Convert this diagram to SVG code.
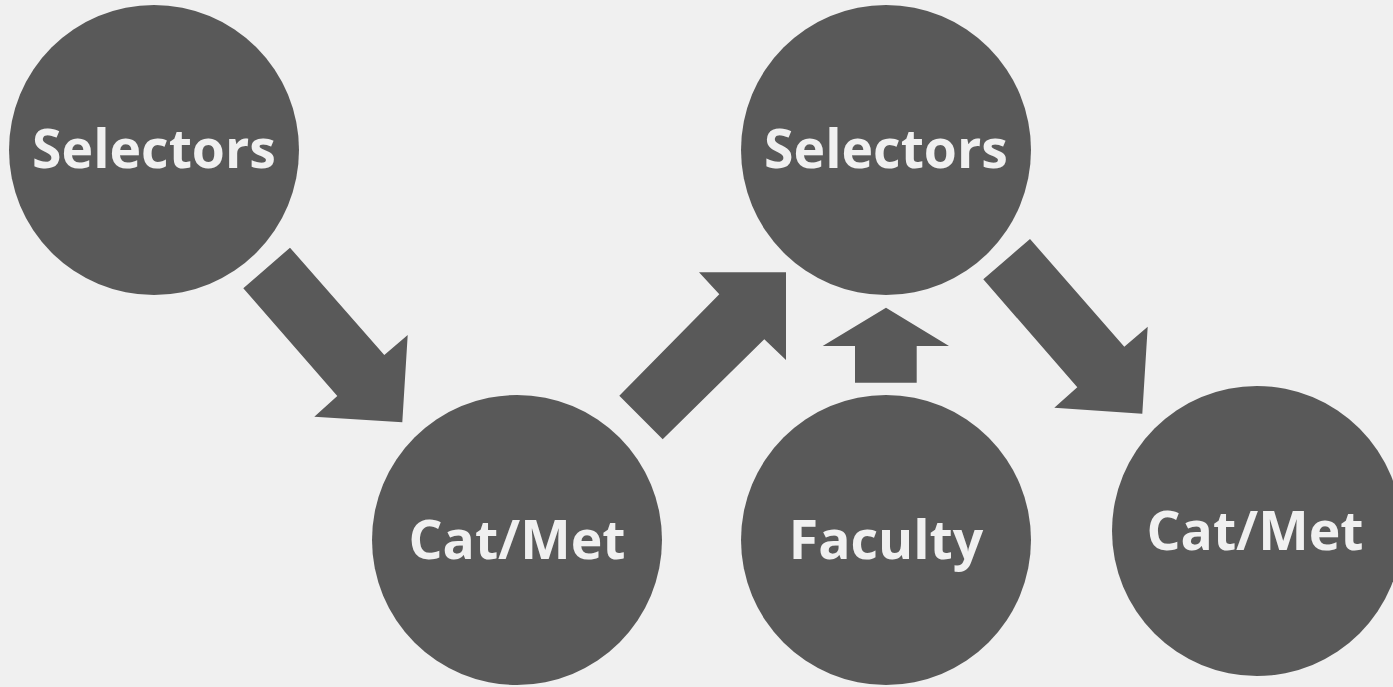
<svg xmlns="http://www.w3.org/2000/svg" width="1393" height="687" viewBox="0 0 1393 687">
<style>
.n{fill:#595959}
.t{fill:#f0f0f0;font-family:"Open Sans","Noto Sans",sans-serif;font-weight:700;font-size:53.5px;text-anchor:middle}
.a{fill:#595959}
</style>
<rect width="1393" height="687" fill="#f0f0f0"/>
<g id="connectors">
<polygon class="a" points="290,247.7 243.3,288.3 337.3,396 314.3,416.7 402.3,422.3 407.7,335 384.3,355"/>
<polygon class="a" points="619.3,395.7 662.7,439.3 764.3,339.3 786,360 786,272.3 699,272.3 719.3,294.3"/>
<polygon class="a" points="886,307.7 822.7,346 855,346 855,382.7 916.7,382.7 916.7,346 949,346"/>
<polygon class="a" points="1030,239 983.3,279.3 1077.3,387.3 1054.3,407.7 1142.3,413.7 1147.7,326.7 1124.3,346.7"/>
</g>
<g id="selectors1"><circle class="n" cx="154" cy="150" r="145"/><text class="t" x="154" y="168">Selectors</text></g>
<g id="catmet1"><circle class="n" cx="517" cy="540" r="145"/><text class="t" x="517" y="559">Cat/Met</text></g>
<g id="selectors2"><circle class="n" cx="886" cy="150" r="145"/><text class="t" x="886" y="168">Selectors</text></g>
<g id="faculty"><circle class="n" cx="886" cy="540" r="145"/><text class="t" x="886" y="559">Faculty</text></g>
<g id="catmet2"><circle class="n" cx="1257" cy="531" r="145"/><text class="t" x="1255" y="550">Cat/Met</text></g>
</svg>
